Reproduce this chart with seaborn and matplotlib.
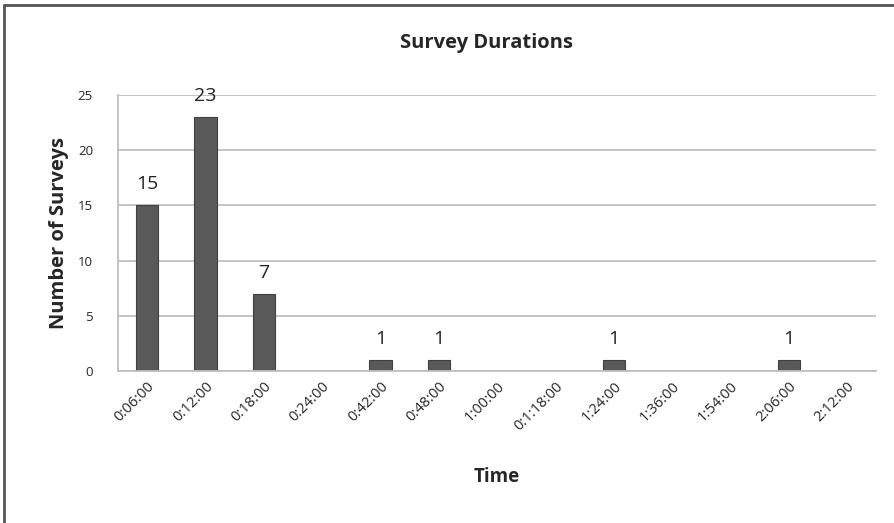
import numpy as np
import pandas as pd
import seaborn as sns
import matplotlib.pyplot as plt
from matplotlib.lines import Line2D

durations = ["0:06:00", "0:12:00", "0:18:00", "0:24:00", "0:42:00", "0:48:00",
             "1:00:00", "0:1:18:00", "1:24:00", "1:36:00", "1:54:00", "2:06:00", "2:12:00"]
counts = [15, 23, 7, 0, 1, 1, 0, 0, 1, 0, 0, 1, 0]
yticks = [0, 5, 10, 15, 20, 25]

df = pd.DataFrame({"time": durations, "surveys": counts})

sns.set_style("white")
plt.rcParams["font.family"] = ["Open Sans", "DejaVu Sans"]

fig = plt.figure(figsize=(8.94, 5.23), dpi=100)
ax = fig.add_axes([0.132, 0.291, 0.848, 0.527])

sns.barplot(data=df, x="time", y="surveys", color="#595959", width=0.38,
            edgecolor="#404040", linewidth=0.8, saturation=1, ax=ax)

# labels only for non-empty bins
for i, v in enumerate(counts):
    if v > 0:
        ax.text(i, v + 1.1, str(v), ha="center", va="bottom", fontsize=14, color="#222222")

ax.set_ylim(0, 25)
ax.set_xlim(-0.5, len(durations) - 0.5)
ax.set_yticks(yticks)
ax.set_yticklabels([str(t) for t in yticks], fontsize=9.5)
ax.yaxis.grid(True, color="#bfbfbf", linewidth=1.3)
ax.set_axisbelow(True)
ax.tick_params(axis="y", length=0, pad=18)
ax.tick_params(axis="x", length=0, pad=6)
plt.setp(ax.get_xticklabels(), rotation=45, ha="right", rotation_mode="anchor", fontsize=10.5)

for side in ["top", "right"]:
    ax.spines[side].set_visible(False)
for side in ["left", "bottom"]:
    ax.spines[side].set_color("#bfbfbf")
    ax.spines[side].set_linewidth(1.3)

ax.set_xlabel("Time", fontsize=13.5, fontweight="bold", labelpad=24)
ax.set_ylabel("Number of Surveys", fontsize=14.5, fontweight="bold", labelpad=6)
fig.text(0.544, 0.918, "Survey Durations", ha="center", va="center",
         fontsize=14.5, fontweight="bold")

# frame edge visible at top and left of the original image
fig.add_artist(Line2D([0.005, 0.005], [0, 0.99], transform=fig.transFigure, color="#555555", linewidth=2))
fig.add_artist(Line2D([0.005, 1], [0.99, 0.99], transform=fig.transFigure, color="#555555", linewidth=2))

fig.savefig("out.png", dpi=100)
